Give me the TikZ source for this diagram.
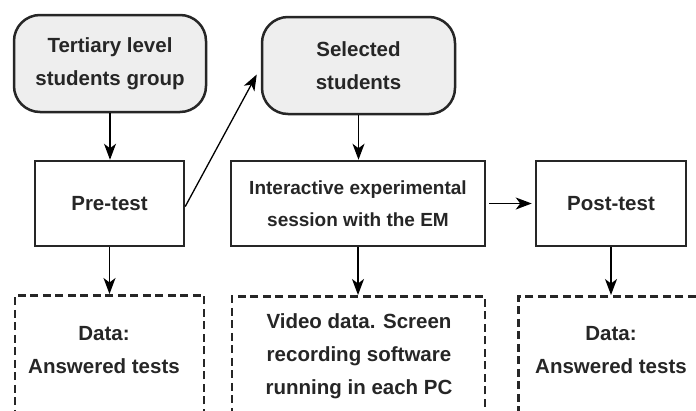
\documentclass[tikz,border=0pt]{standalone}
\usepackage{fontspec}
\setmainfont{Liberation Sans}
\usetikzlibrary{arrows.meta,calc}
\definecolor{txt}{HTML}{262626}
\definecolor{boxfill}{HTML}{EEEEEE}
\definecolor{edge}{HTML}{262626}
\begin{document}
\begin{tikzpicture}[x=1pt,y=-1pt,
  every node/.style={font=\fontsize{20.5}{33}\selectfont\bfseries, text=txt, align=center, inner sep=0pt},
  roundbox/.style={draw=edge, line width=2.5pt, fill=boxfill, rounded corners=26pt, minimum width=192pt, minimum height=97pt},
  plainbox/.style={draw=edge, line width=2.5pt, minimum height=85pt},
  dashbox/.style={draw=edge, line width=2.5pt, dash pattern=on 8pt off 4.5pt, minimum height=220pt, anchor=north},
  arr/.style={-{Stealth[length=16pt,width=12pt,inset=4.5pt]}, line width=1.3pt, black}
]
\useasboundingbox (0,0) rectangle (696,410);
\clip (0,0) rectangle (696,410);

\node[roundbox] (tert) at (110,63.5) {Tertiary level\\students group};
\node[roundbox, minimum width=193pt] (sel) at (358.5,65.5) {Selected\\students};

\node[plainbox, minimum width=149pt] (pre) at (109.5,203.5) {Pre-test};
\node[plainbox, minimum width=254pt, font=\fontsize{19}{32}\selectfont\bfseries] (inter) at (358,203.5) {Interactive experimental\\session with the EM};
\node[plainbox, minimum width=150pt] (post) at (611,203.5) {Post-test};

\node[dashbox, minimum width=189pt] (d1) at (109.5,294) {};
\node[dashbox, minimum width=253pt] (d2) at (358.5,295) {};
\node[dashbox, minimum width=210pt, anchor=north west] (d3) at (517,295) {};

\node (t1) at (104,350) {Data:\\Answered tests};
\node (t2) at (359,356) {Video data. Screen\\recording software\\running in each PC};
\node (t3) at (611,350) {Data:\\Answered tests};

\draw[arr] (tert.south) -- (tert.south |- pre.north);
\draw[arr] ($(pre.east)+(0,3)$) -- ($(sel.west)+(-4,9)$);
\draw[arr] (sel.south) -- (sel.south |- inter.north);
\draw[arr] ([xshift=3pt]inter.east) -- ([xshift=-3pt]post.west);
\draw[arr] (pre.south) -- (pre.south |- d1.north);
\draw[arr] (inter.south) -- (inter.south |- d2.north);
\draw[arr] (post.south) -- (post.south |- d3.north);
\end{tikzpicture}
\end{document}
